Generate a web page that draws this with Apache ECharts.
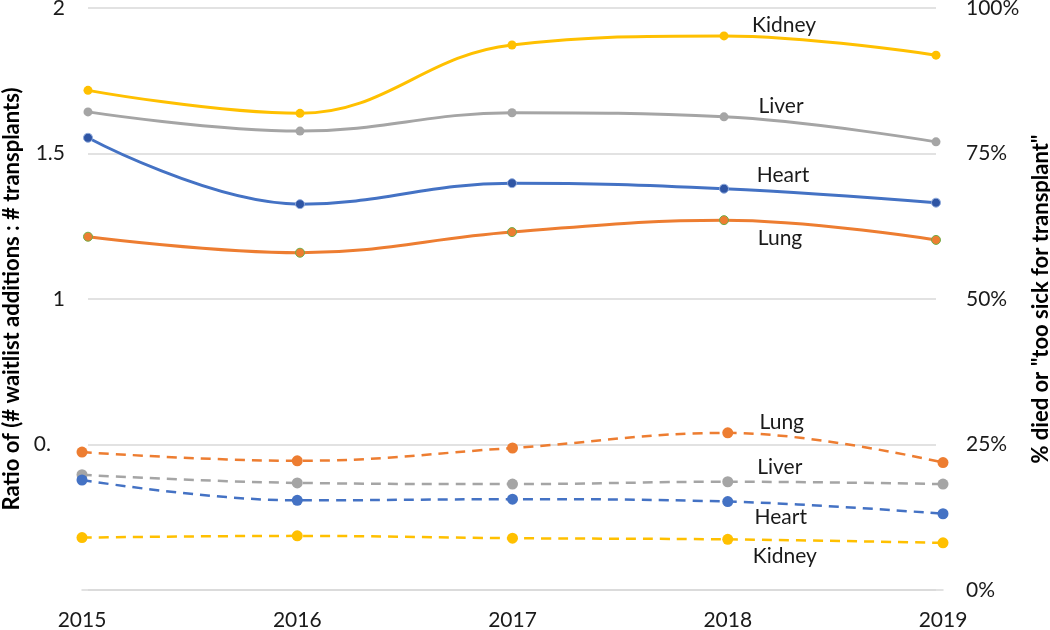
<!DOCTYPE html>
<html>
<head>
<meta charset="utf-8">
<script src="https://cdn.jsdelivr.net/npm/echarts@6/dist/echarts.min.js"></script>
<style>
    html, body { margin: 0; padding: 0; background: #fff; }
    #chart { width: 1050px; height: 630px; }
</style>
</head>
<body>
<div id="chart"></div>
<script>
    // x 轴年份
    const years = ['2015', '2016', '2017', '2018', '2019'];

    // 左轴: waitlist additions : transplants (实线)
    const kidneyRatio = [1.717, 1.638, 1.873, 1.904, 1.838];
    const liverRatio = [1.643, 1.577, 1.640, 1.626, 1.540];
    const heartRatio = [1.554, 1.326, 1.398, 1.379, 1.331];
    const lungRatio = [1.214, 1.159, 1.230, 1.271, 1.203];

    // 右轴: % died or too sick (虚线)
    const lungPct = [0.237, 0.222, 0.244, 0.270, 0.219];
    const liverPct = [0.198, 0.184, 0.182, 0.186, 0.182];
    const heartPct = [0.189, 0.154, 0.156, 0.152, 0.131];
    const kidneyPct = [0.090, 0.093, 0.089, 0.087, 0.081];

    // 刻度
    const leftTicks = [0, 0.5, 1, 1.5, 2];
    const rightTicks = [0, 0.25, 0.5, 0.75, 1];

    const FONT = 'Lato';
    const colors = {
        kidney: '#FFC000',
        liver: '#A5A5A5',
        heart: '#4472C4',
        lung: '#ED7D31'
    };

    // 只给 2018 那个点加标签
    function withLabel(values, name, offset) {
        return values.map((v, i) => {
            if (i !== 3) return v;
            return {
                value: v,
                label: {
                    show: true,
                    position: 'inside',
                    offset: offset,
                    formatter: name,
                    color: '#1a1a1a',
                    fontFamily: FONT,
                    fontSize: 21
                }
            };
        });
    }

    function solidSeries(name, values, color, offset, extra) {
        return Object.assign({
            name: name,
            type: 'line',
            xAxisIndex: 0,
            yAxisIndex: 0,
            smooth: 0.4,
            symbol: 'circle',
            symbolSize: 9,
            lineStyle: { color: color, width: 3 },
            itemStyle: { color: color },
            data: withLabel(values, name, offset)
        }, extra || {});
    }

    function dashedSeries(name, values, color, offset) {
        return {
            name: name + ' %',
            type: 'line',
            xAxisIndex: 1,
            yAxisIndex: 1,
            smooth: 0.4,
            symbol: 'circle',
            symbolSize: 11,
            lineStyle: { color: color, width: 2.5, type: [10, 7] },
            itemStyle: { color: color },
            data: withLabel(values, name, offset)
        };
    }

    const myChart = echarts.init(document.getElementById('chart'));
    myChart.setOption({
        animation: false,
        textStyle: { fontFamily: FONT },
        grid: [
            { left: 88, right: 114, top: 8, bottom: 40, outerBoundsMode: 'none', containLabel: false },
            { left: 82, right: 107, top: 8, bottom: 40, outerBoundsMode: 'none', containLabel: false }
        ],
        xAxis: [
            {
                type: 'category',
                gridIndex: 0,
                boundaryGap: false,
                data: years,
                axisLine: { show: false },
                axisTick: { show: false },
                axisLabel: { show: false }
            },
            {
                type: 'category',
                gridIndex: 1,
                boundaryGap: false,
                data: years,
                axisLine: { lineStyle: { color: '#D9D9D9', width: 1.5 } },
                axisTick: { show: false },
                axisLabel: { color: '#1a1a1a', fontSize: 21, fontFamily: FONT, margin: 20 }
            }
        ],
        yAxis: [
            {
                type: 'value',
                gridIndex: 0,
                min: leftTicks[0],
                max: leftTicks[leftTicks.length - 1],
                interval: 0.5,
                name: 'Ratio of (# waitlist additions : # transplants)',
                nameLocation: 'middle',
                nameGap: 58,
                nameTextStyle: { color: '#000', fontWeight: 'bold', fontSize: 22, fontFamily: FONT },
                axisLine: { show: false },
                axisTick: { show: false },
                splitLine: { lineStyle: { color: '#D9D9D9', width: 1.5 } },
                axisLabel: {
                    color: '#1a1a1a',
                    fontSize: 21,
                    fontFamily: FONT,
                    margin: 23,
                    formatter: function (v) {
                        if (v === 0) return '';
                        if (v === 0.5) return '{cut|0.}';
                        return String(v);
                    },
                    rich: {
                        cut: { fontSize: 21, fontFamily: FONT, color: '#1a1a1a', padding: [0, 14, 0, 0] }
                    }
                }
            },
            {
                type: 'value',
                gridIndex: 1,
                position: 'right',
                min: rightTicks[0],
                max: rightTicks[rightTicks.length - 1],
                interval: 0.25,
                name: '% died or "too sick for transplant"',
                nameLocation: 'middle',
                nameRotate: 90,
                nameGap: 85,
                nameTextStyle: { color: '#000', fontWeight: 'bold', fontSize: 22, fontFamily: FONT },
                axisLine: { show: false },
                axisTick: { show: false },
                splitLine: { show: false },
                axisLabel: {
                    color: '#1a1a1a',
                    fontSize: 21,
                    fontFamily: FONT,
                    margin: 23,
                    formatter: function (v) { return Math.round(v * 100) + '%'; }
                }
            }
        ],
        series: [
            solidSeries('Kidney', kidneyRatio, colors.kidney, [60, -11]),
            solidSeries('Liver', liverRatio, colors.liver, [57, -11]),
            solidSeries('Heart', heartRatio, colors.heart, [59, -13], {
                itemStyle: { color: '#2F55A4', borderColor: '#8FAADC', borderWidth: 1 }
            }),
            solidSeries('Lung', lungRatio, colors.lung, [56, 18], {
                itemStyle: { color: colors.lung, borderColor: '#70AD47', borderWidth: 1 }
            }),
            dashedSeries('Lung', lungPct, colors.lung, [54, -11]),
            dashedSeries('Liver', liverPct, colors.liver, [52, -15]),
            dashedSeries('Heart', heartPct, colors.heart, [53, 16]),
            dashedSeries('Kidney', kidneyPct, colors.kidney, [57, 17])
        ]
    });
</script>
</body>
</html>
